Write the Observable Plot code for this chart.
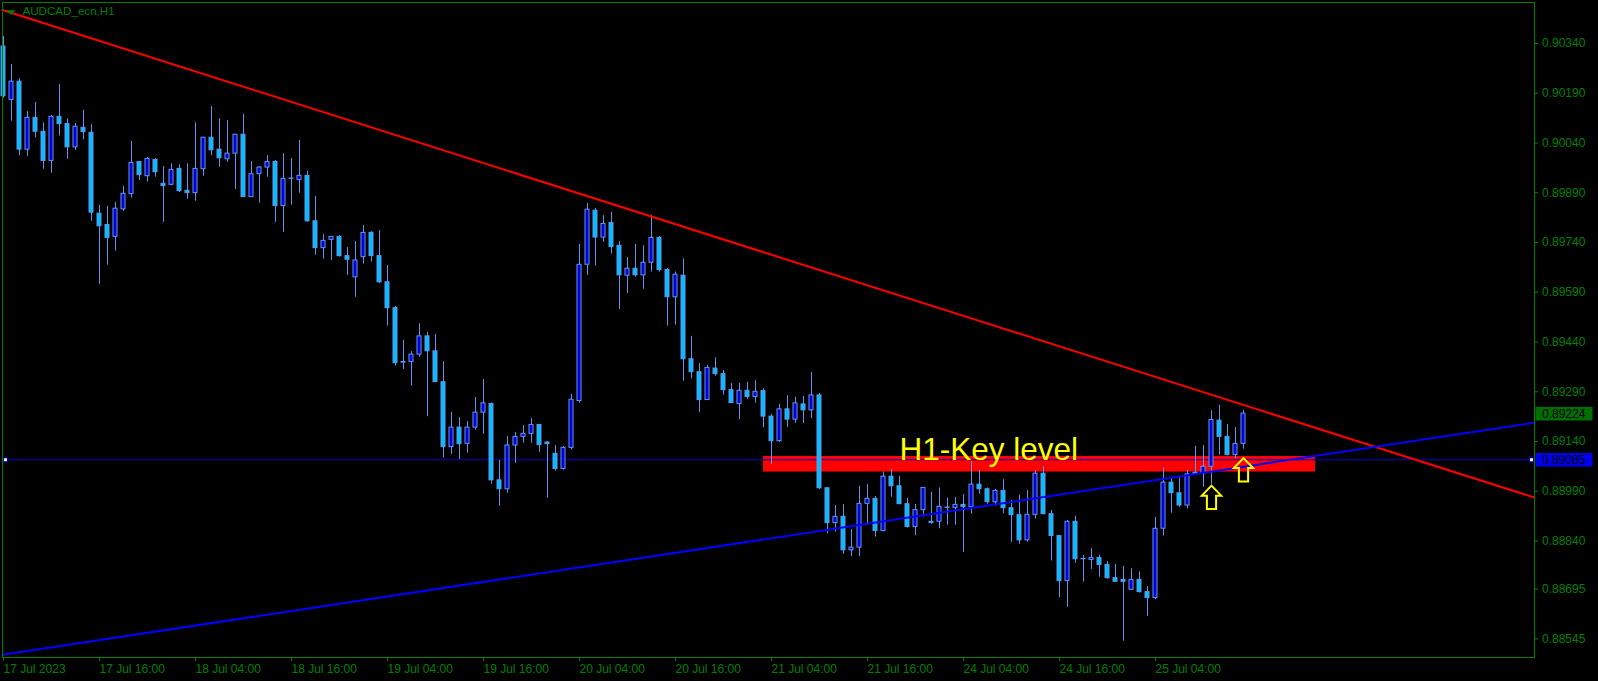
<!DOCTYPE html>
<html><head><meta charset="utf-8">
<script src="https://cdn.jsdelivr.net/npm/d3@7"></script>
<script src="https://cdn.jsdelivr.net/npm/@observablehq/plot@0.6"></script>
<style>
html,body{margin:0;padding:0;background:#000;overflow:hidden;}
#chart svg{display:block;}
</style></head><body><div id="chart"></div>
<script>
// ---- data (AUDCAD_ecn, H1), one entry per bar ----
const open=[
.90331,.90170,.90225,.90020,.90116,.90074,.89986,.90119,.90097,.90027,
.90086,.90071,.89827,.89793,.89757,.89840,.89886,.89983,.89940,.89989,
.89917,.89914,.89962,.89896,.89889,.89961,.90056,.90020,.89991,.90008,
.90065,.89877,.89946,.89966,.89983,.89850,.89932,.89928,.89941,.89804,
.89723,.89748,.89757,.89699,.89635,.89696,.89769,.89699,.89620,.89542,
.89378,.89380,.89402,.89457,.89412,.89319,.89123,.89182,.89133,.89182,
.89227,.89253,.89023,.88996,.89128,.89154,.89163,.89190,.89137,.89103,
.89057,.89121,.89262,.89673,.89836,.89755,.89799,.89730,.89640,.89661,
.89641,.89679,.89754,.89657,.89575,.89640,.89388,.89349,.89265,.89360,
.89343,.89295,.89253,.89293,.89274,.89292,.89215,.89141,.89237,.89206,
.89252,.89234,.89279,.88999,.88894,.88913,.88812,.88820,.88952,.88967,
.88870,.89034,.89005,.88951,.88882,.88933,.88898,.88898,.88941,.88940,
.88949,.88942,.89010,.88996,.88957,.88991,.88939,.88918,.88842,.88919,
.89043,.88921,.88855,.88719,.88898,.88785,.88783,.88789,.88768,.88728,
.88723,.88693,.88723,.88686,.88668,.88877,.89016,.88984,.88947,.89046,
.89042,.89064,.89203,.89154,.89099,.89133];
const high=[
.90361,.90277,.90234,.90135,.90162,.90101,.90123,.90216,.90113,.90099,
.90138,.90095,.89852,.89849,.89861,.89909,.90045,.89983,.89996,.89993,
.89969,.89977,.89974,.89977,.90101,.90056,.90150,.90113,.90108,.90065,
.90126,.89984,.89969,.90002,.89987,.90008,.89993,.90048,.89955,.89879,
.89764,.89757,.89761,.89725,.89743,.89791,.89773,.89776,.89671,.89547,
.89445,.89411,.89495,.89469,.89463,.89381,.89228,.89212,.89200,.89273,
.89327,.89256,.89083,.89155,.89167,.89188,.89209,.89191,.89140,.89128,
.89125,.89282,.89734,.89858,.89843,.89821,.89831,.89743,.89695,.89734,
.89730,.89822,.89758,.89662,.89651,.89691,.89457,.89375,.89370,.89392,
.89354,.89315,.89316,.89318,.89323,.89299,.89222,.89252,.89278,.89274,
.89276,.89348,.89285,.89001,.88947,.88950,.88875,.89005,.89010,.88974,
.89048,.89055,.89035,.88969,.88950,.89000,.88987,.89000,.88969,.88971,
.88980,.89080,.89053,.89000,.88996,.89025,.88962,.88979,.88992,.89052,
.89064,.88932,.88856,.88902,.88915,.88797,.88817,.88797,.88778,.88769,
.88763,.88756,.88747,.88703,.88911,.89061,.89032,.89031,.89053,.89125,
.89128,.89233,.89249,.89192,.89182,.89234];
const low=[
.90175,.90106,.90002,.90000,.90055,.89961,.89949,.90061,.89991,.90018,
.90049,.89804,.89614,.89672,.89714,.89834,.89874,.89927,.89922,.89937,
.89801,.89911,.89891,.89871,.89865,.89940,.90002,.89967,.89982,.89900,
.89877,.89877,.89859,.89937,.89801,.89771,.89853,.89889,.89801,.89702,
.89690,.89686,.89696,.89641,.89575,.89675,.89681,.89617,.89488,.89367,
.89357,.89307,.89394,.89215,.89319,.89090,.89101,.89086,.89105,.89174,
.89162,.89011,.88945,.88984,.89074,.89135,.89135,.89108,.88969,.89051,
.89054,.89114,.89256,.89641,.89669,.89741,.89705,.89538,.89586,.89635,
.89599,.89651,.89651,.89488,.89491,.89322,.89329,.89228,.89264,.89337,
.89280,.89256,.89206,.89267,.89256,.89181,.89071,.89137,.89182,.89195,
.89194,.89209,.88995,.88862,.88867,.88800,.88793,.88793,.88887,.88852,
.88868,.88972,.88950,.88879,.88856,.88912,.88891,.88877,.88888,.88888,
.88806,.88921,.88981,.88951,.88945,.88922,.88836,.88830,.88836,.88906,
.88919,.88780,.88669,.88640,.88773,.88716,.88754,.88731,.88725,.88716,
.88538,.88691,.88683,.88613,.88663,.88855,.88924,.88942,.88937,.89041,
.89002,.89010,.89099,.89097,.89088,.89117];
const close=[
.90181,.90225,.90020,.90116,.90074,.89986,.90119,.90097,.90027,.90089,
.90073,.89830,.89789,.89754,.89842,.89887,.89980,.89943,.89992,.89952,
.89910,.89959,.89895,.89889,.89962,.90056,.90018,.89994,.90008,.90065,
.89877,.89946,.89966,.89983,.89850,.89932,.89933,.89941,.89804,.89723,
.89745,.89757,.89699,.89688,.89686,.89769,.89699,.89620,.89542,.89376,
.89380,.89402,.89457,.89412,.89319,.89123,.89182,.89132,.89182,.89227,
.89255,.89023,.88996,.89128,.89154,.89163,.89190,.89129,.89132,.89057,
.89121,.89266,.89673,.89839,.89755,.89796,.89726,.89641,.89661,.89641,
.89679,.89754,.89657,.89575,.89643,.89388,.89349,.89265,.89362,.89343,
.89295,.89256,.89293,.89274,.89290,.89215,.89141,.89237,.89206,.89255,
.89234,.89279,.88999,.88894,.88913,.88812,.88820,.88952,.88967,.88870,
.89034,.89005,.88951,.88882,.88933,.89000,.88894,.88943,.88940,.88949,
.88942,.89010,.88996,.88957,.88991,.88939,.88918,.88842,.88919,.89043,
.88921,.88855,.88719,.88898,.88785,.88786,.88789,.88768,.88728,.88717,
.88717,.88723,.88686,.88668,.88877,.89016,.88984,.88947,.89041,.89042,
.89064,.89205,.89154,.89099,.89133,.89224];

const timeTickBars=[0,12,24,36,48,60,72,84,96,108,120,132,144];
const timeTickLabels=["17 Jul 2023","17 Jul 16:00","18 Jul 04:00","18 Jul 16:00","19 Jul 04:00","19 Jul 16:00","20 Jul 04:00","20 Jul 16:00","21 Jul 04:00","21 Jul 16:00","24 Jul 04:00","24 Jul 16:00","25 Jul 04:00"];
const priceTicks=[0.90340,0.90190,0.90040,0.89890,0.89740,0.89590,0.89440,0.89290,0.89140,0.88990,0.88840,0.88695,0.88545];

const symbolName="AUDCAD_ecn,H1";
const redTrendBars=[-0.125,191.375];
const redTrendPrices=[0.90441,0.88971];
const blueTrendBars=[-0.125,191.375];
const blueTrendPrices=[0.88497,0.89197];
const keyLevel=0.89085;
const keyZoneBars=[95,164];
const keyZonePrices=[0.89048,0.89095];
const keyLabelText="H1-Key level";
const keyLabelBar=112;
const arrowBars=[151,155];
const arrowPrices=[0.89010,0.89093];
const lastPrice=0.89224;

// ---- build ----
const candles=open.map((o,i)=>({i,o,h:high[i],l:low[i],c:close[i]}));
const redTrend=redTrendBars.map((b,k)=>({b,p:redTrendPrices[k]}));
const blueTrend=blueTrendBars.map((b,k)=>({b,p:blueTrendPrices[k]}));
const arrows=arrowBars.map((b,k)=>({b,p:arrowPrices[k]}));
const zone=[{b1:keyZoneBars[0],b2:keyZoneBars[1],p1:keyZonePrices[0],p2:keyZonePrices[1]}];
const priceTags=[{p:lastPrice,kind:"bid"},{p:keyLevel,kind:"line"}];

const GREEN="#008000", WICK="#6495ed", BULL="#0000dc", BEAR="#00bfff";

const arrowSymbol={draw(ctx){ctx.moveTo(0,1);ctx.lineTo(9.7,11);ctx.lineTo(4.6,11);ctx.lineTo(4.6,24.3);ctx.lineTo(-4.6,24.3);ctx.lineTo(-4.6,11);ctx.lineTo(-9.7,11);ctx.closePath();}};
const tagSymbol={draw(ctx){ctx.rect(1,-6.75,57,13.5);}};
const triSymbol={draw(ctx){ctx.moveTo(-4.5,-2.3);ctx.lineTo(4.5,-2.3);ctx.lineTo(0,2.5);ctx.closePath();}};

const chart=Plot.plot({
  width:1598,height:681,
  marginLeft:2,marginRight:64,marginTop:2,marginBottom:24,
  style:{background:"#000",fontFamily:"'Liberation Sans',Arial,sans-serif",fontSize:"12px",overflow:"visible"},
  x:{type:"linear",domain:[-0.125,191.375],axis:null},
  y:{type:"linear",domain:[0.884888,0.904637],axis:null},
  marks:[
    Plot.rect(zone,{x1:"b1",x2:"b2",y1:"p1",y2:"p2",fill:"#ff0000"}),
    Plot.ruleY([keyLevel],{stroke:"#0000c8",strokeWidth:1}),
    Plot.ruleX(candles,{x:"i",y1:"l",y2:"h",stroke:WICK,strokeWidth:1}),
    Plot.rect(candles.filter(d=>d.o!==d.c),{x1:d=>d.i-0.25,x2:d=>d.i+0.25,y1:"o",y2:"c",fill:d=>d.c>d.o?BULL:BEAR,stroke:WICK,strokeWidth:1}),
    Plot.ruleY(candles.filter(d=>d.o===d.c),{y:"o",x1:d=>d.i-0.25,x2:d=>d.i+0.25,stroke:WICK,strokeWidth:1}),
    Plot.line(redTrend,{x:"b",y:"p",stroke:"#ff0000",strokeWidth:2}),
    Plot.line(blueTrend,{x:"b",y:"p",stroke:"#0000ff",strokeWidth:2}),
    Plot.text([keyLabelText],{x:keyLabelBar,y:keyLevel,text:d=>d,fill:"#ffff00",fontSize:31.5,textAnchor:"start",lineAnchor:"bottom"}),
    Plot.dot(arrows,{x:"b",y:"p",symbol:arrowSymbol,fill:"none",stroke:"#ffff00",strokeWidth:2,r:4}),
    Plot.dot([keyLevel],{y:d=>d,frameAnchor:"left",dx:3,symbol:"square",r:2.5,fill:"#fff",stroke:"#000080"}),
    Plot.dot([keyLevel],{y:d=>d,frameAnchor:"right",dx:-3,symbol:"square",r:2.5,fill:"#fff",stroke:"#000080"}),
    Plot.frame({stroke:GREEN}),
    Plot.axisY({anchor:"right",ticks:priceTicks,tickFormat:d=>d.toFixed(5),tickSize:3,tickPadding:4.5,stroke:GREEN,fill:GREEN,fontSize:12}),
    Plot.axisX({anchor:"bottom",ticks:timeTickBars,tickFormat:d=>timeTickLabels[timeTickBars.indexOf(d)],textAnchor:"start",tickSize:4,tickPadding:3,stroke:GREEN,fill:GREEN,fontSize:12}),
    Plot.dot(priceTags,{y:"p",frameAnchor:"right",symbol:tagSymbol,fill:d=>d.kind==="bid"?"#006e00":"#0000ee",stroke:"none",r:4}),
    Plot.text(priceTags,{y:"p",frameAnchor:"right",dx:7.5,text:d=>d.p.toFixed(5),textAnchor:"start",fill:"#000",fontSize:12}),
    Plot.dot([symbolName],{frameAnchor:"top-left",dx:8.5,dy:10,symbol:triSymbol,fill:GREEN,stroke:"none",r:4}),
    Plot.text([symbolName],{frameAnchor:"top-left",dx:20,dy:4.5,text:d=>d,textAnchor:"start",lineAnchor:"top",fill:GREEN,fontSize:11.6})
  ]
});
document.getElementById("chart").appendChild(chart);
</script>
</body></html>
